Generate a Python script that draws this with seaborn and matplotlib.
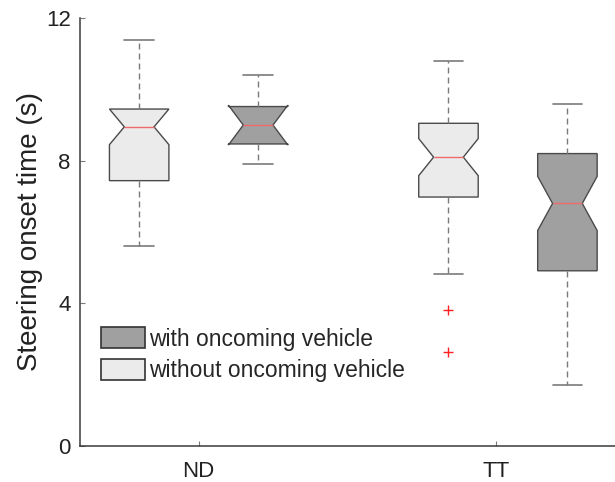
import matplotlib
matplotlib.use("Agg")
import matplotlib.pyplot as plt
from matplotlib.patches import Patch
import seaborn as sns
import numpy as np

# ---- data ----
groups = ["ND", "TT"]
conditions = ["without oncoming vehicle", "with oncoming vehicle"]

# order: ND-without, ND-with, TT-without, TT-with
whislo = [5.60, 7.90, 4.81, 1.71]
q1     = [7.44, 8.47, 6.98, 4.91]
med    = [8.95, 9.00, 8.10, 6.80]
q3     = [9.45, 9.52, 9.05, 8.20]
whishi = [11.38, 10.40, 10.79, 9.59]
cilo   = [8.45, 8.44, 7.58, 6.04]
cihi   = [9.45, 9.56, 8.62, 7.56]
fliers = [[], [], [3.81, 2.62], []]

yticks = [0, 4, 8, 12]

# ---- style ----
sns.set_style("ticks")
plt.rcParams["font.family"] = ["Liberation Sans", "DejaVu Sans"]

light = "#ebebeb"
dark = "#a0a0a0"
edge = "#4a4a4a"
fills = [light, dark, light, dark]

fig = plt.figure(figsize=(6.15, 4.82), dpi=100)
ax = fig.add_axes([79.7 / 615, 36.3 / 482, 535.3 / 615, 427.5 / 482])

offsets = [(-0.2, 0.2), (-0.16, 0.24)]
positions = []
for gi, g in enumerate(groups):
    for o in offsets[gi]:
        positions.append(gi + 1 + o)

stats = []
for i in range(4):
    stats.append(dict(med=med[i], q1=q1[i], q3=q3[i], whislo=whislo[i],
                      whishi=whishi[i], cilo=cilo[i], cihi=cihi[i],
                      fliers=np.array(fliers[i])))

bp = ax.bxp(stats, positions=positions, widths=0.2, capwidths=0.1,
            shownotches=True, patch_artist=True, manage_ticks=False,
            boxprops=dict(edgecolor=edge, linewidth=1.0),
            whiskerprops=dict(color="#7a7a7a", linewidth=1.0,
                              linestyle=(0, (4.3, 2.9))),
            capprops=dict(color="#7a7a7a", linewidth=1.2),
            medianprops=dict(color="#f06a6a", linewidth=1.0),
            flierprops=dict(marker="+", markeredgecolor="#ff2020",
                            markersize=7, markeredgewidth=1.0,
                            linestyle="none"))
for patch, c in zip(bp["boxes"], fills):
    patch.set_facecolor(c)

ax.set_xlim(0.6, 2.4)
ax.set_ylim(0, 12)
ax.set_xticks([1, 2])
ax.set_xticklabels(groups)
ax.set_yticks(yticks)
ax.set_yticklabels([str(t) for t in yticks])

for s in ["top", "right"]:
    ax.spines[s].set_visible(False)
for s in ["left", "bottom"]:
    ax.spines[s].set_color("#3a3a3a")
    ax.spines[s].set_linewidth(1.1)

ax.tick_params(axis="both", direction="in", length=3.6, width=0.8,
               colors="#7a7a7a", labelcolor="#222222", labelsize=16)
ax.tick_params(axis="y", pad=6.5)
ax.tick_params(axis="x", pad=10.8)
ax.set_ylabel("Steering onset time (s)", fontsize=20, color="#222222",
              labelpad=2)

handles = [Patch(facecolor=dark, edgecolor="#333333", linewidth=1.2),
           Patch(facecolor=light, edgecolor="#333333", linewidth=1.2)]
ax.legend(handles, ["with oncoming vehicle", "without oncoming vehicle"],
          loc="upper left", bbox_to_anchor=(101.3 / 615, 1 - 327 / 482),
          bbox_transform=fig.transFigure, frameon=False, fontsize=16.5,
          handlelength=1.9, handleheight=1.06, handletextpad=0.19,
          labelspacing=0.36, borderpad=0, borderaxespad=0)

fig.savefig("out.png", dpi=100)
